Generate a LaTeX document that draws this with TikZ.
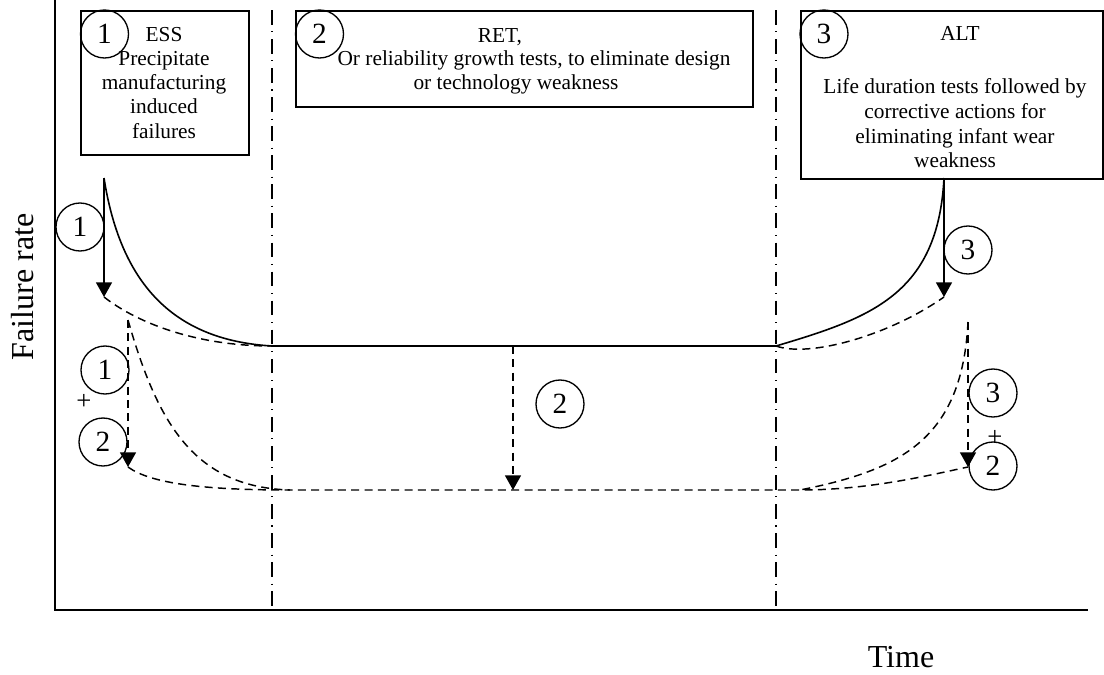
\documentclass[tikz,border=0pt]{standalone}
\usepackage{fontspec}
\setmainfont{Liberation Serif}
\usetikzlibrary{arrows.meta}
\begin{document}
\begin{tikzpicture}[x=0.75pt,y=-0.75pt,
  axisline/.style={line width=1.5pt},
  frame/.style={draw,line width=1.3pt,inner sep=0pt,anchor=north west},
  boxtext/.style={font=\fontsize{16}{18}\selectfont,anchor=base,inner sep=0pt},
  bigtext/.style={font=\fontsize{24}{28}\selectfont,anchor=base,inner sep=0pt},
  num/.style={draw,circle,minimum size=36pt,inner sep=0pt,line width=1pt,
              font=\fontsize{22}{22}\selectfont},
  plus/.style={font=\fontsize{20}{20}\selectfont,inner sep=0pt},
  phase/.style={line width=0.9pt,dash pattern=on 11pt off 5pt on 0.8pt off 5pt},
  curve/.style={line width=1.2pt},
  dcurve/.style={line width=1.1pt,dash pattern=on 6pt off 4pt},
  tip/.style={-{Triangle[length=11pt,width=12pt]}}]
\fill[white] (0,0) rectangle (1104,675);
\useasboundingbox (0,0) rectangle (1104,675);

% axes
\coordinate (ytop) at (55,0);
\coordinate (orig) at (55,610);
\coordinate (xend) at (1088,610);
\draw[axisline] (ytop) -- (orig) -- (xend);
\node[bigtext,rotate=90] (ylab) at (33,287) {Failure rate};
\node[bigtext] (xlab) at (901,667) {Time};

% phase boundaries
\coordinate (p1t) at (272,10);
\coordinate (p1b) at (272,610);
\coordinate (p2t) at (776,10);
\coordinate (p2b) at (776,610);
\draw[phase] (p1t) -- (p1b);
\draw[phase] (p2t) -- (p2b);

% phase boxes
\node[frame,minimum width=126pt,minimum height=108pt] (box1) at (80,10) {};
\node[frame,minimum width=342.75pt,minimum height=72pt] (box2) at (295,10) {};
\node[frame,minimum width=226.5pt,minimum height=126pt] (box3) at (800,10) {};

\node[num] (k1) at (104.5,34) {1};
\node[num] (k2) at (319.5,34) {2};
\node[num] (k3) at (824,34) {3};

\node[boxtext] (t11) at (164,41) {ESS};
\node[boxtext] (t12) at (164,65.3) {Precipitate};
\node[boxtext] (t13) at (164,89.6) {manufacturing};
\node[boxtext] (t14) at (164,113.9) {induced};
\node[boxtext] (t15) at (164,138.2) {failures};

\node[boxtext] (t21) at (500,42) {RET,};
\node[boxtext] (t22) at (534,65.5) {Or reliability growth tests, to eliminate design};
\node[boxtext] (t23) at (516,89) {or technology weakness};

\node[boxtext] (t31) at (960,40) {ALT};
\node[boxtext] (t32) at (955,93) {Life duration tests followed by};
\node[boxtext] (t33) at (955,118) {corrective actions for};
\node[boxtext] (t34) at (955,143) {eliminating infant wear};
\node[boxtext] (t35) at (955,167) {weakness};

% key points of the curves
\coordinate (s0) at (104,178);
\coordinate (a1) at (104,297);
\coordinate (sL) at (272,346);
\coordinate (sR) at (776,346);
\coordinate (s3) at (944,178);
\coordinate (a3) at (944,297);
\coordinate (b1) at (128,320);
\coordinate (a2) at (128,467);
\coordinate (lL) at (290,490);
\coordinate (lR) at (800,490);
\coordinate (b3) at (968,322);
\coordinate (a4) at (968,467);
\coordinate (m0) at (513,346);
\coordinate (m1) at (513,490);

% initial bathtub curve
\draw[curve] (s0) .. controls (120,280) and (170,340) .. (sL) -- (sR)
  .. controls (870,318) and (938,295) .. (s3);

% after ESS and ALT
\draw[dcurve] (a1) .. controls (140,325) and (200,346) .. (sL);
\draw[dcurve] (sR) .. controls (810,358) and (890,335) .. (a3);

% after ESS + RET and ALT + RET
\draw[dcurve] (b1) .. controls (158,425) and (195,487) .. (lL);
\draw[dcurve] (b3) .. controls (962,440) and (900,470) .. (lR);
\draw[dcurve] (a2) .. controls (150,483) and (200,490) .. (lL) -- (lR)
  .. controls (870,490) and (930,475) .. (a4);

% improvement arrows
\draw[curve,tip] (s0) -- (a1);
\draw[curve,tip] (s3) -- (a3);
\draw[dcurve,tip] (b1) -- (a2);
\draw[dcurve,tip] (b3) -- (a4);
\draw[dcurve,tip] (m0) -- (m1);

% step markers
\node[num] (c1a) at (80,227) {1};
\node[num] (c1b) at (105,370) {1};
\node[plus] (pl) at (84,402) {+};
\node[num] (c2a) at (103,442) {2};
\node[num] (c2m) at (560,404) {2};
\node[num] (c3a) at (968,250) {3};
\node[num] (c3b) at (993,393) {3};
\node[plus] (pr) at (995,438) {+};
\node[num] (c2b) at (993,466) {2};
\end{tikzpicture}
\end{document}
